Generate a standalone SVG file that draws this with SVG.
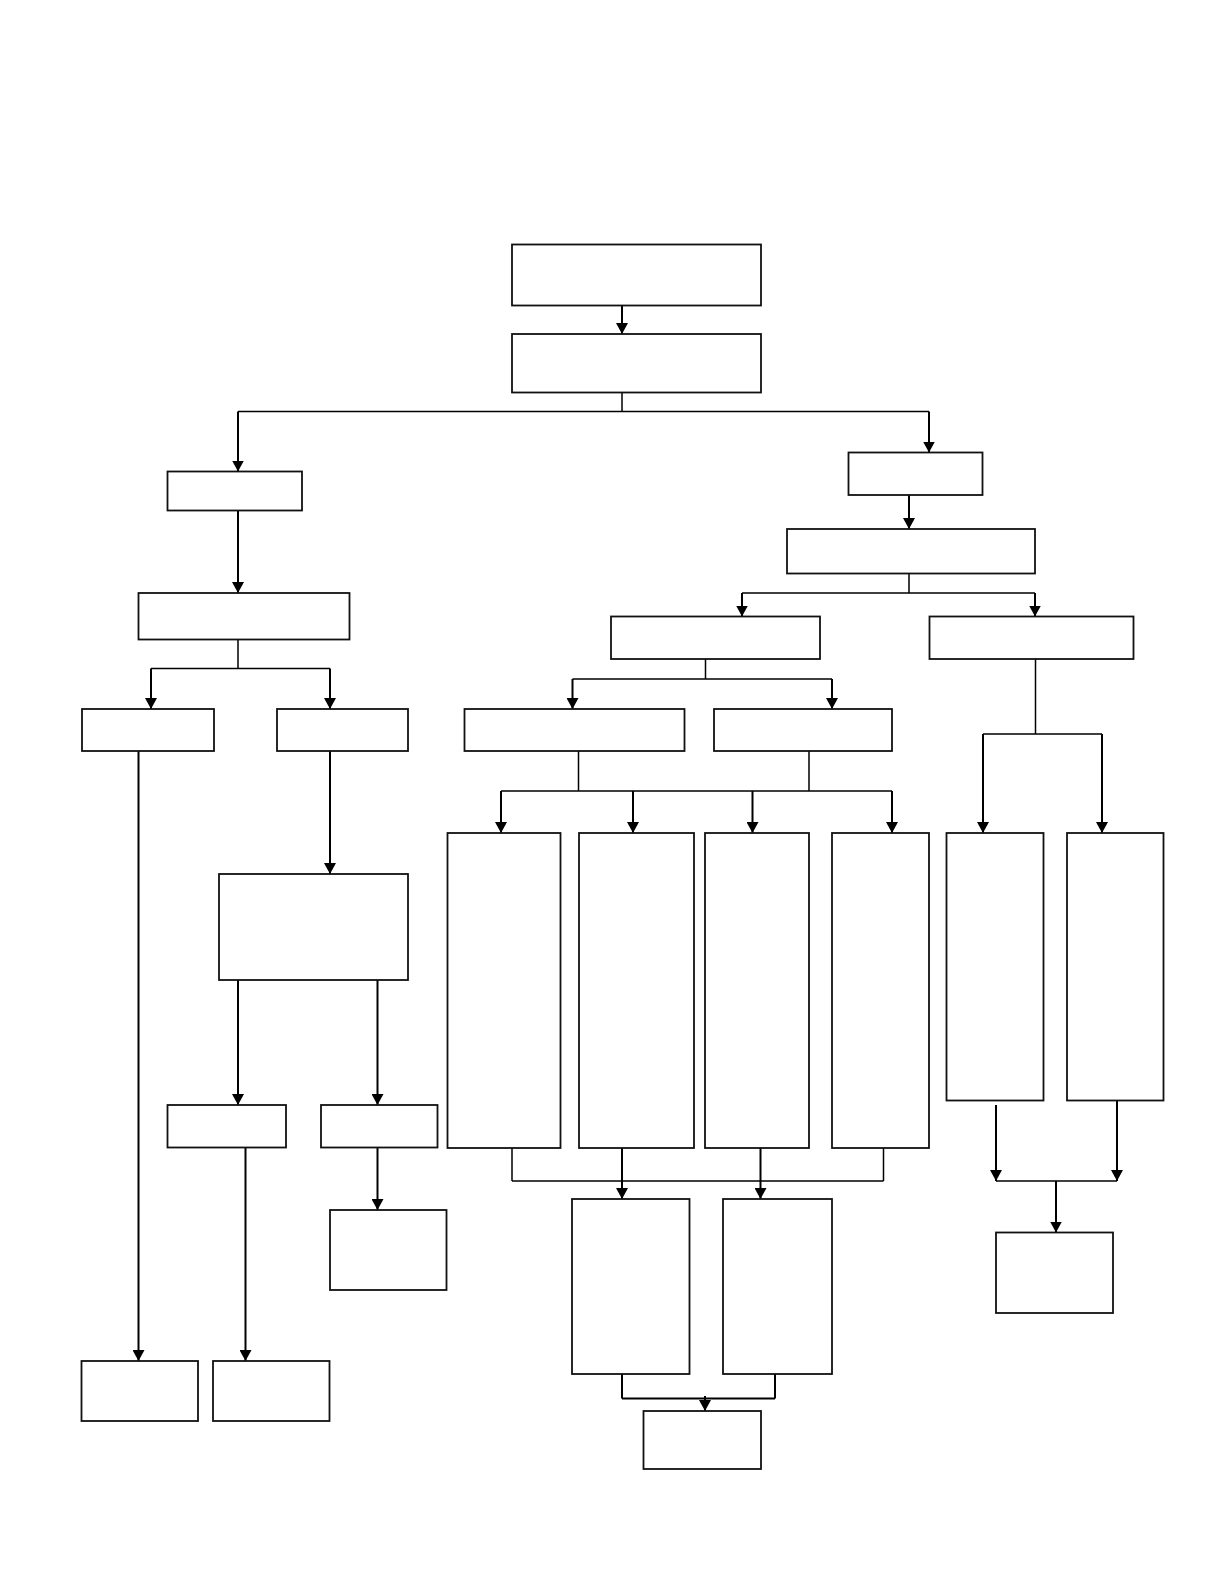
<svg xmlns="http://www.w3.org/2000/svg" width="1224" height="1584" viewBox="0 0 1224 1584">
<style>
.n rect{fill:#fff;stroke:#111;stroke-width:1.8}
.c path{fill:none;stroke:#000;stroke-width:1.5}
.c path.a{stroke-width:2;marker-end:url(#ah)}
</style>
<defs>
<marker id="ah" markerUnits="userSpaceOnUse" markerWidth="11" markerHeight="12" refX="11" refY="6" orient="auto">
<path d="M0,0 L11,6 L0,12 z" fill="#000"/>
</marker>
</defs>
<rect width="1224" height="1584" fill="#fff"/>
<g class="c" id="connectors">
<path class="a" d="M622,306 V334"/>
<path d="M622,392 V411.5 M238,411.5 H929"/>
<path class="a" d="M238,411.5 V471.5"/>
<path class="a" d="M929,411.5 V452.5"/>
<path class="a" d="M238,510.5 V593"/>
<path d="M238,639.5 V668.5 M151,668.5 H330"/>
<path class="a" d="M151,668.5 V709"/>
<path class="a" d="M330,668.5 V709"/>
<path class="a" d="M138.5,751 V1361"/>
<path class="a" d="M330,751 V874"/>
<path class="a" d="M238,980 V1105"/>
<path class="a" d="M377.5,980 V1105"/>
<path class="a" d="M245.5,1147.5 V1361"/>
<path class="a" d="M377.5,1147.5 V1210"/>
<path class="a" d="M909,495 V529"/>
<path d="M909,573.5 V593 M742,593 H1035"/>
<path class="a" d="M742,593 V616.5"/>
<path class="a" d="M1035,593 V616.5"/>
<path d="M705.5,659 V679 M572.5,679 H832"/>
<path class="a" d="M572.5,679 V709"/>
<path class="a" d="M832,679 V709"/>
<path d="M578.5,751 V791 M809,751 V791 M501,791 H892"/>
<path class="a" d="M501,791 V833"/>
<path class="a" d="M633,791 V833"/>
<path class="a" d="M752.5,791 V833"/>
<path class="a" d="M892,791 V833"/>
<path d="M1035.5,659 V734 M983,734 H1102"/>
<path class="a" d="M983,734 V833"/>
<path class="a" d="M1102,734 V833"/>
<path class="a" d="M996,1105 V1181"/>
<path class="a" d="M1117,1100.5 V1181"/>
<path d="M996,1181 H1117"/>
<path class="a" d="M1056,1181 V1232.5"/>
<path d="M512,1148 V1181 M883.5,1148 V1181 M512,1181 H883.5"/>
<path class="a" d="M622,1148 V1199"/>
<path class="a" d="M760.5,1148 V1199"/>
<path d="M622,1374 V1398.5 M775,1374 V1398.5 M622,1398.5 H775" style="stroke-width:2"/>
<path class="a" d="M705,1396 V1411"/>
</g>
<g class="n" id="n1"><rect x="512" y="244.5" width="249" height="61"/></g>
<g class="n" id="n2"><rect x="512" y="334" width="249" height="58.5"/></g>
<g class="n" id="L1"><rect x="167.5" y="471.5" width="134.5" height="39"/></g>
<g class="n" id="L2"><rect x="138.5" y="593" width="211" height="46.5"/></g>
<g class="n" id="L3"><rect x="82" y="709" width="132" height="42"/></g>
<g class="n" id="L4"><rect x="277" y="709" width="131" height="42"/></g>
<g class="n" id="L5"><rect x="219" y="874" width="189" height="106"/></g>
<g class="n" id="L6a"><rect x="167.5" y="1105" width="118.5" height="42.5"/></g>
<g class="n" id="L6b"><rect x="321" y="1105" width="116.5" height="42.5"/></g>
<g class="n" id="L7"><rect x="81.5" y="1361" width="116.5" height="60"/></g>
<g class="n" id="L8"><rect x="213" y="1361" width="116.5" height="60"/></g>
<g class="n" id="L9"><rect x="330" y="1210" width="116.5" height="80"/></g>
<g class="n" id="R1"><rect x="848.5" y="452.5" width="134" height="42.5"/></g>
<g class="n" id="R2"><rect x="787" y="529" width="248" height="44.5"/></g>
<g class="n" id="R3"><rect x="611" y="616.5" width="209" height="42.5"/></g>
<g class="n" id="R4"><rect x="929.5" y="616.5" width="204" height="42.5"/></g>
<g class="n" id="R5"><rect x="464.5" y="709" width="220" height="42"/></g>
<g class="n" id="R6"><rect x="714" y="709" width="178" height="42"/></g>
<g class="n" id="M1"><rect x="447.5" y="833" width="113" height="315"/></g>
<g class="n" id="M2"><rect x="579" y="833" width="115" height="315"/></g>
<g class="n" id="M3"><rect x="705" y="833" width="104" height="315"/></g>
<g class="n" id="M4"><rect x="832" y="833" width="97" height="315"/></g>
<g class="n" id="RA"><rect x="946.5" y="833" width="97" height="267.5"/></g>
<g class="n" id="RB"><rect x="1067" y="833" width="96.5" height="267.5"/></g>
<g class="n" id="RC"><rect x="996" y="1232.5" width="117" height="80.5"/></g>
<g class="n" id="B1"><rect x="572" y="1199" width="117.5" height="175"/></g>
<g class="n" id="B2"><rect x="723" y="1199" width="109" height="175"/></g>
<g class="n" id="B3"><rect x="643.5" y="1411" width="117.5" height="58"/></g>
</svg>
